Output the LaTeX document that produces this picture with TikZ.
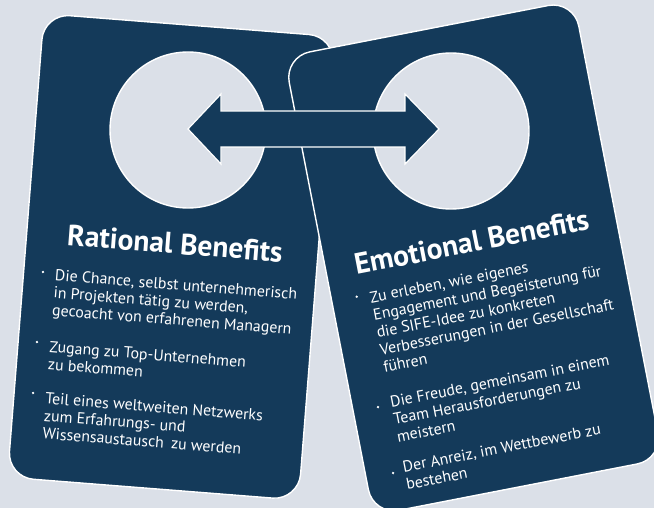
\documentclass[tikz,border=0pt]{standalone}
\usepackage{fontspec}
\setmainfont{PT Sans}
\definecolor{bgc}{HTML}{DBE0E8}
\definecolor{navy}{HTML}{143A5A}
\newlength\mylen
\AtBeginDocument{%
  \settowidth{\mylen}{\fontsize{10}{12}\selectfont Die Chance, selbst unternehmerisch}%
  \pgfmathparse{10*242.7/\mylen}\xdef\bodysize{\pgfmathresult}%
  \settowidth{\mylen}{\fontsize{10}{12}\selectfont\bfseries Rational Benefits}%
  \pgfmathparse{10*215.7/\mylen}\xdef\titlesize{\pgfmathresult}%
}
\begin{document}
\begin{tikzpicture}[x=1pt,y=1pt]
\tikzset{
  card/.style={fill=navy, draw=white, line width=1.4pt, rounded corners=26pt},
  hole/.style={fill=bgc, draw=white, line width=1.4pt},
  arrowshape/.style={fill=navy, draw=white, line width=1.2pt, line join=miter},
  title/.style={text=white, inner sep=0pt, anchor=center, font=\fontsize{\titlesize}{\titlesize}\selectfont\bfseries},
  body/.style={text=white, inner sep=0pt, anchor=base west, font=\fontsize{\bodysize}{\bodysize}\selectfont},
  dot/.style={fill=white, circle, inner sep=0pt, minimum size=2.6pt}
}
\useasboundingbox (0,0) rectangle (654,-508);
\fill[bgc] (0,0) rectangle (654,-508);
\clip (0,0) rectangle (654,-508);

% left card
\begin{scope}[shift={(171.25,-256.9)}, rotate=-4.5]
  \path[card] (-146,-232.5) rectangle (146,232.5);
\end{scope}
\path[hole] (188,-130) circle (78);
\begin{scope}[shift={(171.25,-256.9)}, rotate=-4.5, transform shape]
  \node[title] (rt) at (2.7,13.7) {Rational Benefits};
  \node[dot] (rd1) at (-126.7,-25.1) {};
  \node[body] (r1a) at (-114.5,-32.6) {Die Chance, selbst unternehmerisch};
  \node[body] (r1b) at (-114.5,-50.2) {in Projekten tätig zu werden,};
  \node[body] (r1c) at (-114.5,-67.8) {gecoacht von erfahrenen Managern};
  \node[dot] (rd2) at (-127.2,-95.4) {};
  \node[body] (r2a) at (-114.5,-104.5) {Zugang zu Top-Unternehmen};
  \node[body] (r2b) at (-114.5,-122.1) {zu bekommen};
  \node[dot] (rd3) at (-127.1,-146.5) {};
  \node[body] (r3a) at (-114.5,-156.1) {Teil eines weltweiten Netzwerks};
  \node[body] (r3b) at (-114.5,-173.7) {zum Erfahrungs- und};
  \node[body] (r3c) at (-114.5,-191.3) {Wissensaustausch\hspace{3pt} zu werden};
\end{scope}

% right card
\begin{scope}[shift={(473.6,-257.9)}, rotate=11]
  \path[card] (-147.5,-233.5) rectangle (147.5,233.5);
\end{scope}
\path[hole] (451,-131) circle (78);
\begin{scope}[shift={(473.6,-257.9)}, rotate=11, transform shape]
  \node[title] (et) at (1,16) {Emotional Benefits};
  \node[dot] (ed1) at (-122.2,-15.8) {};
  \node[body] (e1a) at (-109.5,-24.7) {Zu erleben, wie eigenes};
  \node[body] (e1b) at (-109.5,-42.4) {Engagement und Begeisterung für};
  \node[body] (e1c) at (-109.5,-60.1) {die SIFE-Idee zu konkreten};
  \node[body] (e1d) at (-109.5,-77.8) {Verbesserungen in der Gesellschaft};
  \node[body] (e1e) at (-109.5,-95.5) {führen};
  \node[dot] (ed2) at (-122.3,-128.2) {};
  \node[body] (e2a) at (-109.5,-131) {Die Freude, gemeinsam in einem};
  \node[body] (e2b) at (-109.5,-148.7) {Team Herausforderungen zu};
  \node[body] (e2c) at (-109.5,-166.4) {meistern};
  \node[dot] (ed3) at (-120.1,-195.8) {};
  \node[body] (e3a) at (-109.5,-197.3) {Der Anreiz, im Wettbewerb zu};
  \node[body] (e3b) at (-109.5,-215) {bestehen};
\end{scope}

% double arrow
\path[arrowshape] (188,-129) -- (221,-94) -- (221,-111) -- (405,-111) -- (405,-94)
  -- (439,-129) -- (405,-164) -- (405,-147) -- (221,-147) -- (221,-164) -- cycle;
\end{tikzpicture}
\end{document}
